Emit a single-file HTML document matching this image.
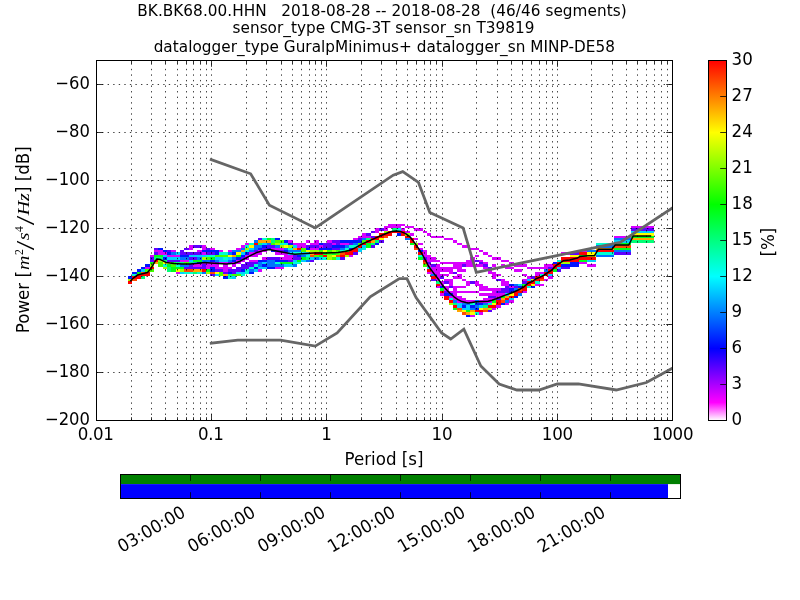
<!DOCTYPE html>
<html><head><meta charset="utf-8"><title>PPSD BK.BK68.00.HHN</title>
<style>html,body{margin:0;padding:0;background:#fff;overflow:hidden}svg{display:block}</style></head>
<body>
<svg width="800" height="600" viewBox="0 0 800 600" font-family="DejaVu Sans, Liberation Sans, sans-serif" font-size="16.67px" fill="#000">
<rect width="800" height="600" fill="#fff"/>
<g shape-rendering="crispEdges">
<path fill="#d900ff" d="M145 267h5v2h-5zM150 255h4v2h-4zM154 250h4v2h-4zM158 250h5v2h-5zM158 252h5v3h-5zM163 252h4v3h-4zM167 255h4v2h-4zM171 250h5v2h-5zM171 255h5v2h-5zM176 255h4v2h-4zM176 272h4v2h-4zM180 260h4v2h-4zM184 260h5v2h-5zM189 245h4v3h-4zM189 248h4v2h-4zM193 264h4v3h-4zM197 250h5v2h-5zM197 264h5v3h-5zM202 245h4v3h-4zM202 248h4v2h-4zM202 252h4v3h-4zM202 262h4v2h-4zM206 262h4v2h-4zM206 264h4v3h-4zM206 267h4v2h-4zM210 248h5v2h-5zM210 262h5v2h-5zM210 264h5v3h-5zM215 264h4v3h-4zM215 267h4v2h-4zM219 250h4v2h-4zM219 262h4v2h-4zM219 267h4v2h-4zM223 262h5v2h-5zM223 264h5v3h-5zM223 267h5v2h-5zM223 269h5v3h-5zM228 250h4v2h-4zM228 267h4v2h-4zM232 262h4v2h-4zM232 264h4v3h-4zM236 248h5v2h-5zM236 260h5v2h-5zM236 262h5v2h-5zM241 245h4v3h-4zM241 260h4v2h-4zM245 243h4v2h-4zM245 255h4v2h-4zM245 257h4v3h-4zM249 252h5v3h-5zM249 255h5v2h-5zM249 260h5v2h-5zM254 252h4v3h-4zM254 255h4v2h-4zM254 260h4v2h-4zM258 250h4v2h-4zM258 252h4v3h-4zM258 269h4v3h-4zM262 250h5v2h-5zM262 257h5v3h-5zM271 248h4v2h-4zM275 248h5v2h-5zM275 252h5v3h-5zM275 267h5v2h-5zM280 248h4v2h-4zM280 252h4v3h-4zM280 257h4v3h-4zM280 267h4v2h-4zM284 252h4v3h-4zM284 255h4v2h-4zM284 257h4v3h-4zM288 240h5v3h-5zM288 255h5v2h-5zM288 257h5v3h-5zM293 243h4v2h-4zM297 243h4v2h-4zM297 245h4v3h-4zM301 243h5v2h-5zM301 245h5v3h-5zM306 240h4v3h-4zM310 243h4v2h-4zM310 248h4v2h-4zM314 240h5v3h-5zM314 243h5v2h-5zM314 248h5v2h-5zM319 245h4v3h-4zM327 240h5v3h-5zM332 243h4v2h-4zM340 243h5v2h-5zM345 243h4v2h-4zM349 255h4v2h-4zM353 238h5v2h-5zM358 236h4v2h-4zM362 233h4v3h-4zM362 236h4v2h-4zM366 236h5v2h-5zM375 228h4v3h-4zM375 231h4v2h-4zM384 226h4v2h-4zM384 228h4v3h-4zM388 224h4v2h-4zM388 226h4v2h-4zM392 224h5v2h-5zM392 226h5v2h-5zM397 224h4v2h-4zM397 226h4v2h-4zM401 224h4v2h-4zM401 228h4v3h-4zM405 226h5v2h-5zM405 231h5v2h-5zM410 226h4v2h-4zM410 233h4v3h-4zM414 228h4v3h-4zM414 238h4v2h-4zM418 228h5v3h-5zM418 243h5v2h-5zM418 248h5v2h-5zM423 231h4v2h-4zM423 250h4v2h-4zM423 252h4v3h-4zM423 255h4v2h-4zM427 233h4v3h-4zM427 255h4v2h-4zM427 257h4v3h-4zM427 260h4v2h-4zM427 264h4v3h-4zM427 272h4v2h-4zM431 236h5v2h-5zM431 257h5v3h-5zM431 260h5v2h-5zM431 267h5v2h-5zM431 269h5v3h-5zM431 272h5v2h-5zM436 236h4v2h-4zM436 260h4v2h-4zM436 264h4v3h-4zM436 267h4v2h-4zM436 269h4v3h-4zM436 272h4v2h-4zM436 274h4v2h-4zM436 276h4v3h-4zM436 279h4v2h-4zM436 286h4v2h-4zM440 236h4v2h-4zM440 262h4v2h-4zM440 267h4v2h-4zM440 269h4v3h-4zM440 274h4v2h-4zM440 281h4v3h-4zM440 284h4v2h-4zM440 293h4v3h-4zM444 238h5v2h-5zM444 262h5v2h-5zM444 267h5v2h-5zM444 269h5v3h-5zM444 274h5v2h-5zM444 279h5v2h-5zM444 286h5v2h-5zM444 288h5v3h-5zM449 238h4v2h-4zM449 262h4v2h-4zM449 267h4v2h-4zM449 269h4v3h-4zM449 272h4v2h-4zM449 279h4v2h-4zM449 281h4v3h-4zM449 284h4v2h-4zM449 291h4v2h-4zM449 296h4v2h-4zM453 240h4v3h-4zM453 262h4v2h-4zM453 264h4v3h-4zM453 267h4v2h-4zM453 276h4v3h-4zM453 286h4v2h-4zM453 288h4v3h-4zM453 291h4v2h-4zM453 293h4v3h-4zM453 296h4v2h-4zM453 298h4v2h-4zM457 243h5v2h-5zM457 262h5v2h-5zM457 264h5v3h-5zM457 267h5v2h-5zM457 269h5v3h-5zM457 274h5v2h-5zM457 276h5v3h-5zM457 286h5v2h-5zM457 291h5v2h-5zM457 296h5v2h-5zM457 298h5v2h-5zM457 300h5v3h-5zM462 245h4v3h-4zM462 262h4v2h-4zM462 269h4v3h-4zM462 279h4v2h-4zM462 286h4v2h-4zM462 291h4v2h-4zM462 298h4v2h-4zM462 300h4v3h-4zM466 245h4v3h-4zM466 260h4v2h-4zM466 262h4v2h-4zM466 264h4v3h-4zM466 281h4v3h-4zM466 284h4v2h-4zM466 291h4v2h-4zM466 300h4v3h-4zM470 248h5v2h-5zM470 257h5v3h-5zM470 260h5v2h-5zM470 262h5v2h-5zM470 264h5v3h-5zM470 291h5v2h-5zM470 300h5v3h-5zM470 315h5v2h-5zM475 248h4v2h-4zM475 255h4v2h-4zM475 264h4v3h-4zM475 281h4v3h-4zM475 284h4v2h-4zM475 291h4v2h-4zM479 250h4v2h-4zM479 260h4v2h-4zM479 264h4v3h-4zM479 284h4v2h-4zM479 286h4v2h-4zM479 288h4v3h-4zM479 293h4v3h-4zM479 300h4v3h-4zM479 312h4v3h-4zM483 252h5v3h-5zM483 262h5v2h-5zM483 267h5v2h-5zM483 286h5v2h-5zM483 288h5v3h-5zM483 293h5v3h-5zM483 298h5v2h-5zM483 300h5v3h-5zM488 255h4v2h-4zM488 269h4v3h-4zM488 272h4v2h-4zM488 288h4v3h-4zM488 293h4v3h-4zM488 298h4v2h-4zM488 300h4v3h-4zM492 257h4v3h-4zM492 264h4v3h-4zM492 272h4v2h-4zM492 274h4v2h-4zM492 276h4v3h-4zM492 288h4v3h-4zM492 291h4v2h-4zM492 293h4v3h-4zM492 298h4v2h-4zM492 308h4v2h-4zM496 257h5v3h-5zM496 274h5v2h-5zM496 288h5v3h-5zM496 293h5v3h-5zM496 296h5v2h-5zM496 305h5v3h-5zM501 260h4v2h-4zM501 264h4v3h-4zM501 279h4v2h-4zM501 281h4v3h-4zM501 284h4v2h-4zM501 293h4v3h-4zM505 260h4v2h-4zM505 267h4v2h-4zM505 281h4v3h-4zM505 284h4v2h-4zM505 303h4v2h-4zM509 262h5v2h-5zM509 267h5v2h-5zM509 286h5v2h-5zM509 300h5v3h-5zM514 264h4v3h-4zM514 269h4v3h-4zM518 264h4v3h-4zM518 269h4v3h-4zM522 264h5v3h-5zM522 274h5v2h-5zM522 279h5v2h-5zM522 291h5v2h-5zM527 267h4v2h-4zM527 276h4v3h-4zM531 267h4v2h-4zM535 267h5v2h-5zM535 272h5v2h-5zM535 274h5v2h-5zM535 284h5v2h-5zM540 267h4v2h-4zM540 272h4v2h-4zM540 284h4v2h-4zM544 264h4v3h-4zM544 267h4v2h-4zM544 279h4v2h-4zM548 264h5v3h-5zM548 276h5v3h-5zM561 252h5v3h-5zM566 252h4v3h-4zM579 250h4v2h-4zM579 262h4v2h-4zM583 250h4v2h-4zM583 262h4v2h-4zM587 264h5v3h-5zM592 264h4v3h-4zM614 236h4v2h-4zM618 236h4v2h-4zM622 236h5v2h-5zM627 236h4v2h-4zM631 226h4v2h-4zM635 226h5v2h-5zM640 226h4v2h-4zM644 226h4v2h-4zM648 226h6v2h-6z"/>
<path fill="#5e00ff" d="M150 257h4v3h-4zM150 260h4v2h-4zM154 248h4v2h-4zM154 252h4v3h-4zM167 250h4v2h-4zM167 260h4v2h-4zM171 260h5v2h-5zM176 260h4v2h-4zM180 250h4v2h-4zM180 252h4v3h-4zM184 248h5v2h-5zM184 252h5v3h-5zM184 267h5v2h-5zM189 252h4v3h-4zM189 257h4v3h-4zM189 264h4v3h-4zM189 267h4v2h-4zM193 245h4v3h-4zM193 252h4v3h-4zM193 257h4v3h-4zM193 267h4v2h-4zM197 245h5v3h-5zM197 252h5v3h-5zM197 267h5v2h-5zM202 264h4v3h-4zM202 267h4v2h-4zM206 248h4v2h-4zM206 252h4v3h-4zM210 252h5v3h-5zM210 274h5v2h-5zM215 262h4v2h-4zM215 269h4v3h-4zM219 269h4v3h-4zM223 272h5v2h-5zM228 262h4v2h-4zM228 269h4v3h-4zM232 269h4v3h-4zM232 272h4v2h-4zM236 267h5v2h-5zM236 269h5v3h-5zM241 257h4v3h-4zM241 264h4v3h-4zM241 267h4v2h-4zM245 262h4v2h-4zM245 264h4v3h-4zM245 267h4v2h-4zM249 262h5v2h-5zM249 264h5v3h-5zM254 250h4v2h-4zM254 262h4v2h-4zM258 238h4v2h-4zM262 248h5v2h-5zM267 245h4v3h-4zM267 257h4v3h-4zM271 245h4v3h-4zM271 257h4v3h-4zM275 250h5v2h-5zM275 257h5v3h-5zM280 250h4v2h-4zM288 260h5v2h-5zM293 255h4v2h-4zM293 257h4v3h-4zM297 257h4v3h-4zM306 245h4v3h-4zM310 245h4v3h-4zM310 260h4v2h-4zM314 245h5v3h-5zM323 243h4v2h-4zM323 245h4v3h-4zM327 243h5v2h-5zM327 245h5v3h-5zM332 240h4v3h-4zM332 248h4v2h-4zM336 240h4v3h-4zM336 243h4v2h-4zM336 248h4v2h-4zM340 257h5v3h-5zM349 243h4v2h-4zM353 252h5v3h-5zM358 238h4v2h-4zM366 233h5v3h-5zM371 231h4v2h-4zM371 236h4v2h-4zM371 245h4v3h-4zM379 228h5v3h-5zM379 240h5v3h-5zM423 257h4v3h-4zM427 262h4v2h-4zM431 264h5v3h-5zM431 279h5v2h-5zM440 276h4v3h-4zM444 281h5v3h-5zM444 291h5v2h-5zM449 286h4v2h-4zM453 272h4v2h-4zM462 264h4v3h-4zM470 281h5v3h-5zM475 260h4v2h-4zM479 262h4v2h-4zM483 264h5v3h-5zM488 267h4v2h-4zM488 296h4v2h-4zM488 310h4v2h-4zM492 296h4v2h-4zM496 279h5v2h-5zM496 291h5v2h-5zM496 298h5v2h-5zM501 288h4v3h-4zM501 291h4v2h-4zM505 286h4v2h-4zM505 288h4v3h-4zM505 291h4v2h-4zM514 286h4v2h-4zM522 281h5v3h-5zM531 276h4v3h-4zM548 267h5v2h-5zM557 269h4v3h-4zM561 267h5v2h-5zM566 267h4v2h-4zM570 252h4v3h-4zM574 252h5v3h-5zM614 252h4v3h-4zM618 252h4v3h-4zM622 252h5v3h-5zM627 252h4v3h-4zM631 228h4v3h-4zM635 228h5v3h-5zM640 228h4v3h-4zM644 228h4v3h-4zM648 228h6v3h-6z"/>
<path fill="#0016ff" d="M128 276h4v3h-4zM132 272h5v2h-5zM137 269h4v3h-4zM141 267h4v2h-4zM145 264h5v3h-5zM158 248h5v2h-5zM163 250h4v2h-4zM163 257h4v3h-4zM167 252h4v3h-4zM180 255h4v2h-4zM184 255h5v2h-5zM197 262h5v2h-5zM202 250h4v2h-4zM206 250h4v2h-4zM210 250h5v2h-5zM210 260h5v2h-5zM210 267h5v2h-5zM210 269h5v3h-5zM215 250h4v2h-4zM215 252h4v3h-4zM223 276h5v3h-5zM228 272h4v2h-4zM232 252h4v3h-4zM232 260h4v2h-4zM236 257h5v3h-5zM241 255h4v2h-4zM241 269h4v3h-4zM245 252h4v3h-4zM249 272h5v2h-5zM254 267h4v2h-4zM258 248h4v2h-4zM258 260h4v2h-4zM262 245h5v3h-5zM262 260h5v2h-5zM262 264h5v3h-5zM267 248h4v2h-4zM267 267h4v2h-4zM271 250h4v2h-4zM271 267h4v2h-4zM275 238h5v2h-5zM275 260h5v2h-5zM280 260h4v2h-4zM284 240h4v3h-4zM284 250h4v2h-4zM284 260h4v2h-4zM288 243h5v2h-5zM297 255h4v2h-4zM306 248h4v2h-4zM319 243h4v2h-4zM319 248h4v2h-4zM323 248h4v2h-4zM327 248h5v2h-5zM332 245h4v3h-4zM336 245h4v3h-4zM340 240h5v3h-5zM340 245h5v3h-5zM345 240h4v3h-4zM349 240h4v3h-4zM349 248h4v2h-4zM353 240h5v3h-5zM358 240h4v3h-4zM375 243h4v2h-4zM397 233h4v3h-4zM418 250h5v2h-5zM440 286h4v2h-4zM444 293h5v3h-5zM449 293h4v3h-4zM462 305h4v3h-4zM466 315h4v2h-4zM470 305h5v3h-5zM475 303h4v2h-4zM475 308h4v2h-4zM479 303h4v2h-4zM501 303h4v2h-4zM509 284h5v2h-5zM509 288h5v3h-5zM509 291h5v2h-5zM514 296h4v2h-4zM518 286h4v2h-4zM531 286h4v2h-4zM553 262h4v2h-4zM561 264h5v3h-5zM566 264h4v3h-4zM570 262h4v2h-4zM570 264h4v3h-4zM574 262h5v2h-5zM574 264h5v3h-5z"/>
<path fill="#0073ff" d="M171 252h5v3h-5zM180 257h4v3h-4zM180 264h4v3h-4zM184 257h5v3h-5zM184 264h5v3h-5zM197 257h5v3h-5zM202 260h4v2h-4zM202 272h4v2h-4zM206 260h4v2h-4zM215 260h4v2h-4zM228 252h4v3h-4zM228 260h4v2h-4zM232 250h4v2h-4zM232 257h4v3h-4zM236 250h5v2h-5zM241 248h4v2h-4zM249 250h5v2h-5zM249 269h5v3h-5zM254 240h4v3h-4zM254 245h4v3h-4zM254 248h4v2h-4zM258 245h4v3h-4zM258 262h4v2h-4zM258 264h4v3h-4zM267 243h4v2h-4zM267 260h4v2h-4zM267 262h4v2h-4zM267 264h4v3h-4zM271 260h4v2h-4zM271 262h4v2h-4zM271 264h4v3h-4zM275 245h5v3h-5zM275 264h5v3h-5zM280 264h4v3h-4zM284 248h4v2h-4zM288 250h5v2h-5zM293 250h4v2h-4zM293 264h4v3h-4zM297 250h4v2h-4zM301 255h5v2h-5zM306 260h4v2h-4zM314 257h5v3h-5zM340 248h5v2h-5zM345 245h4v3h-4zM353 243h5v2h-5zM362 238h4v2h-4zM405 238h5v2h-5zM431 274h5v2h-5zM453 300h4v3h-4zM462 303h4v2h-4zM466 303h4v2h-4zM470 308h5v2h-5zM475 300h4v3h-4zM475 305h4v3h-4zM483 303h5v2h-5zM505 300h4v3h-4zM514 284h4v2h-4zM514 288h4v3h-4zM518 293h4v3h-4zM544 269h4v3h-4zM587 250h5v2h-5zM592 250h4v2h-4zM596 245h4v3h-4zM596 255h4v2h-4zM600 245h5v3h-5zM600 255h5v2h-5zM605 245h4v3h-4zM605 255h4v2h-4zM609 245h5v3h-5zM609 255h5v2h-5zM614 238h4v2h-4zM614 250h4v2h-4zM618 238h4v2h-4zM618 250h4v2h-4zM622 238h5v2h-5zM622 250h5v2h-5zM627 238h4v2h-4zM627 250h4v2h-4z"/>
<path fill="#00cfff" d="M141 269h4v3h-4zM163 255h4v2h-4zM167 257h4v3h-4zM171 257h5v3h-5zM176 252h4v3h-4zM176 257h4v3h-4zM180 272h4v2h-4zM189 255h4v2h-4zM189 260h4v2h-4zM193 255h4v2h-4zM193 262h4v2h-4zM197 255h5v2h-5zM202 255h4v2h-4zM215 257h4v3h-4zM215 274h4v2h-4zM219 257h4v3h-4zM219 260h4v2h-4zM223 260h5v2h-5zM228 257h4v3h-4zM232 276h4v3h-4zM236 272h5v2h-5zM241 252h4v3h-4zM241 272h4v2h-4zM249 248h5v2h-5zM254 269h4v3h-4zM258 267h4v2h-4zM262 243h5v2h-5zM262 262h5v2h-5zM262 267h5v2h-5zM284 264h4v3h-4zM288 252h5v3h-5zM288 264h5v3h-5zM293 245h4v3h-4zM293 260h4v2h-4zM301 252h5v3h-5zM301 260h5v2h-5zM306 252h4v3h-4zM310 257h4v3h-4zM319 257h4v3h-4zM358 248h4v2h-4zM358 250h4v2h-4zM362 245h4v3h-4zM457 303h5v2h-5zM457 305h5v3h-5zM462 308h4v2h-4zM466 305h4v3h-4zM466 308h4v2h-4zM479 305h4v3h-4zM505 293h4v3h-4zM509 298h5v2h-5zM518 284h4v2h-4zM527 279h4v2h-4zM548 274h5v2h-5zM557 267h4v2h-4zM587 260h5v2h-5zM592 260h4v2h-4zM614 240h4v3h-4zM618 240h4v3h-4zM622 240h5v3h-5zM627 240h4v3h-4zM631 231h4v2h-4zM635 231h5v2h-5zM640 231h4v2h-4zM644 231h4v2h-4zM648 231h6v2h-6z"/>
<path fill="#00ffd3" d="M132 274h5v2h-5zM163 264h4v3h-4zM176 264h4v3h-4zM184 272h5v2h-5zM189 272h4v2h-4zM197 272h5v2h-5zM206 255h4v2h-4zM210 255h5v2h-5zM219 252h4v3h-4zM223 252h5v3h-5zM223 257h5v3h-5zM228 276h4v3h-4zM241 274h4v2h-4zM245 245h4v3h-4zM245 250h4v2h-4zM245 269h4v3h-4zM245 272h4v2h-4zM249 243h5v2h-5zM249 267h5v2h-5zM254 264h4v3h-4zM262 238h5v2h-5zM275 262h5v2h-5zM280 243h4v2h-4zM284 243h4v2h-4zM288 248h5v2h-5zM293 252h4v3h-4zM293 262h4v2h-4zM297 252h4v3h-4zM297 262h4v2h-4zM306 255h4v2h-4zM323 257h4v3h-4zM336 257h4v3h-4zM340 250h5v2h-5zM345 248h4v2h-4zM349 245h4v3h-4zM353 245h5v3h-5zM362 248h4v2h-4zM397 228h4v3h-4zM418 255h5v2h-5zM427 267h4v2h-4zM449 298h4v2h-4zM470 303h5v2h-5zM475 312h4v3h-4zM488 303h4v2h-4zM527 286h4v2h-4zM535 281h5v3h-5zM540 274h4v2h-4zM557 260h4v2h-4zM596 243h4v2h-4zM596 252h4v3h-4zM600 243h5v2h-5zM600 252h5v3h-5zM605 243h4v2h-4zM605 252h4v3h-4zM609 243h5v2h-5zM609 252h5v3h-5z"/>
<path fill="#00ff76" d="M141 276h4v3h-4zM154 257h4v3h-4zM158 257h5v3h-5zM163 260h4v2h-4zM167 267h4v2h-4zM167 269h4v3h-4zM176 262h4v2h-4zM180 262h4v2h-4zM189 262h4v2h-4zM193 272h4v2h-4zM228 274h4v2h-4zM258 243h4v2h-4zM271 238h4v2h-4zM271 240h4v3h-4zM306 257h4v3h-4zM366 238h5v2h-5zM371 243h4v2h-4zM375 240h4v3h-4zM392 228h5v3h-5zM436 281h4v3h-4zM453 303h4v2h-4zM483 305h5v3h-5zM631 240h4v3h-4zM635 240h5v3h-5zM640 240h4v3h-4zM644 240h4v3h-4zM648 240h6v3h-6z"/>
<path fill="#00ff1a" d="M137 272h4v2h-4zM150 262h4v2h-4zM154 255h4v2h-4zM158 255h5v2h-5zM167 264h4v3h-4zM171 262h5v2h-5zM171 267h5v2h-5zM171 269h5v3h-5zM176 267h4v2h-4zM180 267h4v2h-4zM193 260h4v2h-4zM197 260h5v2h-5zM206 269h4v3h-4zM210 257h5v3h-5zM236 255h5v2h-5zM267 238h4v2h-4zM280 262h4v2h-4zM284 262h4v2h-4zM288 262h5v2h-5zM297 260h4v2h-4zM301 257h5v3h-5zM319 255h4v2h-4zM323 252h4v3h-4zM332 252h4v3h-4zM345 250h4v2h-4zM366 243h5v2h-5zM366 245h5v3h-5zM410 243h4v2h-4zM418 257h5v3h-5zM440 288h4v3h-4zM453 308h4v2h-4zM466 310h4v2h-4zM492 300h4v3h-4zM501 296h4v2h-4zM522 284h5v2h-5zM553 269h4v3h-4zM579 255h4v2h-4zM579 260h4v2h-4zM583 255h4v2h-4zM583 260h4v2h-4zM614 243h4v2h-4zM614 248h4v2h-4zM618 243h4v2h-4zM618 248h4v2h-4zM622 243h5v2h-5zM622 248h5v2h-5zM627 243h4v2h-4zM627 248h4v2h-4zM631 236h4v2h-4zM635 236h5v2h-5zM640 236h4v2h-4zM644 236h4v2h-4zM648 236h6v2h-6z"/>
<path fill="#43ff00" d="M145 269h5v3h-5zM150 269h4v3h-4zM158 262h5v2h-5zM158 264h5v3h-5zM171 264h5v3h-5zM184 262h5v2h-5zM206 257h4v3h-4zM215 255h4v2h-4zM219 255h4v2h-4zM219 272h4v2h-4zM219 274h4v2h-4zM223 255h5v2h-5zM232 274h4v2h-4zM236 274h5v2h-5zM271 243h4v2h-4zM275 240h5v3h-5zM280 240h4v3h-4zM301 248h5v2h-5zM301 250h5v2h-5zM314 255h5v2h-5zM319 250h4v2h-4zM327 250h5v2h-5zM327 252h5v3h-5zM332 257h4v3h-4zM336 250h4v2h-4zM336 252h4v3h-4zM358 243h4v2h-4zM362 240h4v3h-4zM423 264h4v3h-4z"/>
<path fill="#9fff00" d="M128 279h4v2h-4zM150 264h4v3h-4zM158 260h5v2h-5zM163 267h4v2h-4zM180 269h4v3h-4zM202 257h4v3h-4zM206 272h4v2h-4zM245 248h4v2h-4zM275 243h5v2h-5zM280 245h4v3h-4zM288 245h5v3h-5zM310 250h4v2h-4zM314 250h5v2h-5zM327 255h5v2h-5zM327 257h5v3h-5zM332 250h4v2h-4zM345 255h4v2h-4zM384 231h4v2h-4zM405 233h5v3h-5zM414 243h4v2h-4zM449 303h4v2h-4zM488 308h4v2h-4zM561 262h5v2h-5zM566 262h4v2h-4z"/>
<path fill="#fbff00" d="M163 262h4v2h-4zM167 262h4v2h-4zM176 269h4v3h-4zM215 272h4v2h-4zM228 255h4v2h-4zM236 252h5v3h-5zM249 245h5v3h-5zM284 245h4v3h-4zM306 250h4v2h-4zM323 250h4v2h-4zM332 255h4v2h-4zM379 238h5v2h-5zM462 310h4v2h-4zM470 312h5v3h-5zM479 308h4v2h-4zM492 303h4v2h-4zM509 293h5v3h-5zM531 279h4v2h-4zM531 284h4v2h-4zM570 255h4v2h-4zM574 255h5v2h-5zM587 252h5v3h-5zM587 255h5v2h-5zM592 252h4v3h-4zM592 255h4v2h-4zM631 233h4v3h-4zM635 233h5v3h-5zM640 233h4v3h-4zM644 233h4v3h-4zM648 233h6v3h-6z"/>
<path fill="#ffa600" d="M154 262h4v2h-4zM193 269h4v3h-4zM197 269h5v3h-5zM223 274h5v2h-5zM232 255h4v2h-4zM241 250h4v2h-4zM258 240h4v3h-4zM262 240h5v3h-5zM267 240h4v3h-4zM293 248h4v2h-4zM310 252h4v3h-4zM371 240h4v3h-4zM457 310h5v2h-5zM466 312h4v3h-4zM470 310h5v2h-5zM483 308h5v2h-5zM501 298h4v2h-4zM505 296h4v2h-4zM596 248h4v2h-4zM600 248h5v2h-5zM605 248h4v2h-4zM609 248h5v2h-5zM631 238h4v2h-4zM635 238h5v2h-5zM640 238h4v2h-4zM644 238h4v2h-4zM648 238h6v2h-6z"/>
<path fill="#ff4a00" d="M132 279h5v2h-5zM141 272h4v2h-4zM184 269h5v3h-5zM189 269h4v3h-4zM210 272h5v2h-5zM310 255h4v2h-4zM336 255h4v2h-4zM340 252h5v3h-5zM384 236h4v2h-4zM414 248h4v2h-4zM423 262h4v2h-4zM457 308h5v2h-5zM462 312h4v3h-4zM483 310h5v2h-5zM501 300h4v3h-4zM518 288h4v3h-4zM540 279h4v2h-4zM614 245h4v3h-4zM618 245h4v3h-4zM622 245h5v3h-5zM627 245h4v3h-4z"/>
<path fill="#ff0000" d="M128 281h4v3h-4zM132 276h5v3h-5zM137 274h4v2h-4zM137 276h4v3h-4zM141 274h4v2h-4zM145 272h5v2h-5zM145 274h5v2h-5zM150 267h4v2h-4zM154 260h4v2h-4zM202 269h4v3h-4zM254 243h4v2h-4zM297 248h4v2h-4zM314 252h5v3h-5zM319 252h4v3h-4zM323 255h4v2h-4zM340 255h5v2h-5zM345 252h4v3h-4zM349 250h4v2h-4zM349 252h4v3h-4zM353 248h5v2h-5zM353 250h5v2h-5zM358 245h4v3h-4zM362 243h4v2h-4zM366 240h5v3h-5zM371 238h4v2h-4zM375 236h4v2h-4zM375 238h4v2h-4zM379 233h5v3h-5zM379 236h5v2h-5zM384 233h4v3h-4zM388 231h4v2h-4zM388 233h4v3h-4zM392 231h5v2h-5zM397 231h4v2h-4zM401 231h4v2h-4zM401 233h4v3h-4zM405 236h5v2h-5zM410 238h4v2h-4zM410 240h4v3h-4zM414 245h4v3h-4zM418 252h5v3h-5zM423 260h4v2h-4zM427 269h4v3h-4zM431 276h5v3h-5zM436 284h4v2h-4zM440 291h4v2h-4zM444 296h5v2h-5zM444 298h5v2h-5zM449 300h4v3h-4zM453 305h4v3h-4zM475 310h4v2h-4zM479 310h4v2h-4zM488 305h4v3h-4zM492 305h4v3h-4zM496 300h5v3h-5zM496 303h5v2h-5zM505 298h4v2h-4zM509 296h5v2h-5zM514 291h4v2h-4zM514 293h4v3h-4zM518 291h4v2h-4zM522 286h5v2h-5zM522 288h5v3h-5zM527 281h4v3h-4zM527 284h4v2h-4zM531 281h4v3h-4zM535 276h5v3h-5zM535 279h5v2h-5zM540 276h4v3h-4zM544 272h4v2h-4zM544 274h4v2h-4zM548 269h5v3h-5zM548 272h5v2h-5zM553 264h4v3h-4zM553 267h4v2h-4zM557 262h4v2h-4zM557 264h4v3h-4zM561 257h5v3h-5zM561 260h5v2h-5zM566 257h4v3h-4zM566 260h4v2h-4zM570 257h4v3h-4zM570 260h4v2h-4zM574 257h5v3h-5zM574 260h5v2h-5zM579 252h4v3h-4zM579 257h4v3h-4zM583 252h4v3h-4zM583 257h4v3h-4zM587 257h5v3h-5zM592 257h4v3h-4zM596 250h4v2h-4zM600 250h5v2h-5zM605 250h4v2h-4zM609 250h5v2h-5z"/>
</g>
<path d="M131.5 420.5V60.5M151.5 420.5V60.5M165.5 420.5V60.5M177.5 420.5V60.5M186.5 420.5V60.5M193.5 420.5V60.5M200.5 420.5V60.5M206.5 420.5V60.5M211.5 420.5V60.5M246.5 420.5V60.5M266.5 420.5V60.5M281.5 420.5V60.5M292.5 420.5V60.5M301.5 420.5V60.5M309.5 420.5V60.5M315.5 420.5V60.5M321.5 420.5V60.5M326.5 420.5V60.5M361.5 420.5V60.5M381.5 420.5V60.5M396.5 420.5V60.5M407.5 420.5V60.5M416.5 420.5V60.5M424.5 420.5V60.5M430.5 420.5V60.5M436.5 420.5V60.5M442.5 420.5V60.5M476.5 420.5V60.5M497.5 420.5V60.5M511.5 420.5V60.5M522.5 420.5V60.5M531.5 420.5V60.5M539.5 420.5V60.5M546.5 420.5V60.5M552.5 420.5V60.5M557.5 420.5V60.5M591.5 420.5V60.5M612.5 420.5V60.5M626.5 420.5V60.5M637.5 420.5V60.5M646.5 420.5V60.5M654.5 420.5V60.5M661.5 420.5V60.5M667.5 420.5V60.5" stroke="#000" stroke-width="0.75" stroke-dasharray="1.39 4.17" fill="none"/>
<path d="M96.5 372.5H672.5M96.5 324.5H672.5M96.5 276.5H672.5M96.5 228.5H672.5M96.5 180.5H672.5M96.5 132.5H672.5M96.5 84.5H672.5" stroke="#000" stroke-width="0.75" stroke-dasharray="1.39 4.17" fill="none"/>
<clipPath id="axc"><rect x="96.5" y="60.5" width="576.0" height="360.0"/></clipPath>
<path d="M211.20 343.20L237.75 340.08L280.56 340.07L315.24 346.08L337.16 332.87L370.20 296.75L399.38 278.64L406.92 278.63L416.04 297.60L441.60 333.00L450.72 338.99L463.85 329.11L480.82 366.01L499.16 383.99L516.85 390.00L538.96 390.00L557.30 384.00L578.40 383.97L616.23 389.98L646.44 382.51L672.00 368.35" stroke="#666" stroke-width="2.78" fill="none" stroke-linejoin="miter" stroke-miterlimit="10" stroke-linecap="square" clip-path="url(#axc)"/>
<path d="M211.20 159.60L250.65 173.77L269.39 205.20L315.24 228.00L393.19 175.19L402.75 171.59L418.48 182.40L429.81 212.39L463.20 228.01L476.28 272.39L620.16 242.41L672.00 208.25" stroke="#666" stroke-width="2.78" fill="none" stroke-linejoin="miter" stroke-miterlimit="10" stroke-linecap="square" clip-path="url(#axc)"/>
<path d="M130.2 281.2L133.0 278.3L137.0 275.3L141.4 273.9L147.5 272.4L150.3 269.3L154.0 263.2L156.8 258.9L160.4 259.6L166.0 262.4L174.0 263.6L182.0 264.0L190.0 264.0L198.0 263.2L204.4 262.6L214.0 263.2L226.4 264.0L234.4 263.2L240.0 261.2L248.0 256.8L256.0 252.8L264.0 250.4L269.6 249.6L274.0 250.4L282.0 252.0L290.0 253.6L294.8 254.2L306.0 253.6L314.0 253.0L326.0 253.0L338.0 252.6L346.0 251.2L350.8 250.0L355.6 247.6L360.4 244.8L365.2 242.6L372.0 239.6L380.0 236.0L388.0 232.8L392.0 231.4L396.0 231.0L400.8 231.6L405.6 233.6L410.4 237.2L414.0 242.0L418.0 247.6L422.0 254.0L426.0 261.2L428.4 266.0L434.0 273.6L438.0 278.8L442.0 284.4L446.0 289.2L450.0 293.2L454.0 296.8L458.0 299.6L462.0 301.6L466.0 302.6L468.0 303.0L472.0 302.4L476.0 301.8L484.0 301.4L488.0 301.2L492.0 300.2L496.0 298.8L500.0 297.2L504.0 295.6L512.0 292.8L520.0 289.2L524.0 286.8L528.0 283.2L532.0 281.6L536.0 278.8L540.0 277.2L544.0 275.2L548.0 272.4L552.0 270.0L554.4 267.2L556.0 265.6L560.0 263.0L563.2 260.8L569.6 260.0L574.4 258.8L577.6 258.0L580.0 256.4L588.0 255.8L594.4 255.8L598.4 249.2L612.0 249.2L615.2 245.0L628.8 245.0L633.2 236.0L651.2 236.0" stroke="#000" stroke-width="1.5" fill="none" stroke-linejoin="round" stroke-linecap="butt"/>
<rect x="96.5" y="60.5" width="576.0" height="360.0" fill="none" stroke="#000" stroke-width="1"/>
<path d="M96.5 420.5v-6.3M96.5 60.5v6.3M131.5 420.5v-3.3M131.5 60.5v3.3M151.5 420.5v-3.3M151.5 60.5v3.3M165.5 420.5v-3.3M165.5 60.5v3.3M177.5 420.5v-3.3M177.5 60.5v3.3M186.5 420.5v-3.3M186.5 60.5v3.3M193.5 420.5v-3.3M193.5 60.5v3.3M200.5 420.5v-3.3M200.5 60.5v3.3M206.5 420.5v-3.3M206.5 60.5v3.3M211.5 420.5v-6.3M211.5 60.5v6.3M246.5 420.5v-3.3M246.5 60.5v3.3M266.5 420.5v-3.3M266.5 60.5v3.3M281.5 420.5v-3.3M281.5 60.5v3.3M292.5 420.5v-3.3M292.5 60.5v3.3M301.5 420.5v-3.3M301.5 60.5v3.3M309.5 420.5v-3.3M309.5 60.5v3.3M315.5 420.5v-3.3M315.5 60.5v3.3M321.5 420.5v-3.3M321.5 60.5v3.3M326.5 420.5v-6.3M326.5 60.5v6.3M361.5 420.5v-3.3M361.5 60.5v3.3M381.5 420.5v-3.3M381.5 60.5v3.3M396.5 420.5v-3.3M396.5 60.5v3.3M407.5 420.5v-3.3M407.5 60.5v3.3M416.5 420.5v-3.3M416.5 60.5v3.3M424.5 420.5v-3.3M424.5 60.5v3.3M430.5 420.5v-3.3M430.5 60.5v3.3M436.5 420.5v-3.3M436.5 60.5v3.3M442.5 420.5v-6.3M442.5 60.5v6.3M476.5 420.5v-3.3M476.5 60.5v3.3M497.5 420.5v-3.3M497.5 60.5v3.3M511.5 420.5v-3.3M511.5 60.5v3.3M522.5 420.5v-3.3M522.5 60.5v3.3M531.5 420.5v-3.3M531.5 60.5v3.3M539.5 420.5v-3.3M539.5 60.5v3.3M546.5 420.5v-3.3M546.5 60.5v3.3M552.5 420.5v-3.3M552.5 60.5v3.3M557.5 420.5v-6.3M557.5 60.5v6.3M591.5 420.5v-3.3M591.5 60.5v3.3M612.5 420.5v-3.3M612.5 60.5v3.3M626.5 420.5v-3.3M626.5 60.5v3.3M637.5 420.5v-3.3M637.5 60.5v3.3M646.5 420.5v-3.3M646.5 60.5v3.3M654.5 420.5v-3.3M654.5 60.5v3.3M661.5 420.5v-3.3M661.5 60.5v3.3M667.5 420.5v-3.3M667.5 60.5v3.3M672.5 420.5v-6.3M672.5 60.5v6.3M96.5 420.5h6.3M672.5 420.5h-6.3M96.5 372.5h6.3M672.5 372.5h-6.3M96.5 324.5h6.3M672.5 324.5h-6.3M96.5 276.5h6.3M672.5 276.5h-6.3M96.5 228.5h6.3M672.5 228.5h-6.3M96.5 180.5h6.3M672.5 180.5h-6.3M96.5 132.5h6.3M672.5 132.5h-6.3M96.5 84.5h6.3M672.5 84.5h-6.3" stroke="#000" stroke-width="0.8" fill="none"/>
<text transform="translate(95.60,440) scale(1,1.06)" text-anchor="middle" letter-spacing="-0.3">0.01</text>
<text transform="translate(210.80,440) scale(1,1.06)" text-anchor="middle" letter-spacing="-0.3">0.1</text>
<text transform="translate(326.50,440) scale(1,1.06)" text-anchor="middle" letter-spacing="-0.3">1</text>
<text transform="translate(441.90,440) scale(1,1.06)" text-anchor="middle" letter-spacing="-0.3">10</text>
<text transform="translate(557.30,440) scale(1,1.06)" text-anchor="middle" letter-spacing="-0.3">100</text>
<text transform="translate(672.60,440) scale(1,1.06)" text-anchor="middle" letter-spacing="-0.3">1000</text>
<text transform="translate(90,425.15) scale(0.985,1.06)" text-anchor="end">−200</text>
<text transform="translate(90,377.15) scale(0.985,1.06)" text-anchor="end">−180</text>
<text transform="translate(90,329.15) scale(0.985,1.06)" text-anchor="end">−160</text>
<text transform="translate(90,281.15) scale(0.985,1.06)" text-anchor="end">−140</text>
<text transform="translate(90,233.15) scale(0.985,1.06)" text-anchor="end">−120</text>
<text transform="translate(90,185.15) scale(0.985,1.06)" text-anchor="end">−100</text>
<text transform="translate(90,137.15) scale(0.985,1.06)" text-anchor="end">−80</text>
<text transform="translate(90,89.15) scale(0.985,1.06)" text-anchor="end">−60</text>
<text transform="translate(384,464.5) scale(1,1.06)" text-anchor="middle">Period [s]</text>
<g transform="translate(28.7,331.7) rotate(-90)"><text transform="translate(-1.5,0) scale(1,1.06)">Power [</text><text transform="translate(61.6,0) scale(1.2,1)" font-family="Liberation Serif, DejaVu Serif, serif" font-style="italic" font-size="16.67px">m</text><text transform="translate(76.6,-6) scale(1.0,1)" font-family="Liberation Serif, DejaVu Serif, serif"  font-size="11.67px">2</text><text transform="translate(81.5,5.2) scale(1.4,1)" font-family="Liberation Serif, DejaVu Serif, serif"  font-size="24.6px">/</text><text transform="translate(91.5,0) scale(1.2,1)" font-family="Liberation Serif, DejaVu Serif, serif" font-style="italic" font-size="16.67px">s</text><text transform="translate(99.8,-6) scale(1.0,1)" font-family="Liberation Serif, DejaVu Serif, serif"  font-size="11.67px">4</text><text transform="translate(106.5,5.2) scale(1.4,1)" font-family="Liberation Serif, DejaVu Serif, serif"  font-size="24.6px">/</text><text transform="translate(116.5,0) scale(1.2,1)" font-family="Liberation Serif, DejaVu Serif, serif" font-style="italic" font-size="16.67px">H</text><text transform="translate(130.6,0) scale(1.2,1)" font-family="Liberation Serif, DejaVu Serif, serif" font-style="italic" font-size="16.67px">z</text><text transform="translate(185.4,0) scale(1,1.06)" text-anchor="end">] [dB]</text></g>
<text transform="translate(382,16) scale(1,1.06)" text-anchor="middle" xml:space="preserve" style="white-space:pre" font-size="15.28px" letter-spacing="0.04">BK.BK68.00.HHN   2018-08-28 -- 2018-08-28  (46/46 segments)</text>
<text transform="translate(383.5,33) scale(1,1.06)" text-anchor="middle" font-size="15.28px" letter-spacing="0.03">sensor_type CMG-3T sensor_sn T39819</text>
<text transform="translate(384.3,51.5) scale(1,1.06)" text-anchor="middle" font-size="15.28px" letter-spacing="0.03">datalogger_type GuralpMinimus+ datalogger_sn MINP-DE58</text>
<defs><linearGradient id="cb" x1="0" y1="1" x2="0" y2="0"><stop offset="0" stop-color="#ffffff"/><stop offset="0.05" stop-color="#ff00ff"/><stop offset="0.2" stop-color="#0000ff"/><stop offset="0.4" stop-color="#00ffff"/><stop offset="0.6" stop-color="#00ff00"/><stop offset="0.8" stop-color="#ffff00"/><stop offset="1" stop-color="#ff0000"/></linearGradient></defs>
<rect x="708.5" y="60.5" width="18.0" height="360.0" fill="url(#cb)" stroke="#000" stroke-width="1"/>
<text transform="translate(731.6,425.15) scale(1,1.06)">0</text>
<text transform="translate(731.6,389.15) scale(1,1.06)">3</text>
<text transform="translate(731.6,353.15) scale(1,1.06)">6</text>
<text transform="translate(731.6,317.15) scale(1,1.06)">9</text>
<text transform="translate(731.6,281.15) scale(1,1.06)">12</text>
<text transform="translate(731.6,245.15) scale(1,1.06)">15</text>
<text transform="translate(731.6,209.15) scale(1,1.06)">18</text>
<text transform="translate(731.6,173.15) scale(1,1.06)">21</text>
<text transform="translate(731.6,137.15) scale(1,1.06)">24</text>
<text transform="translate(731.6,101.15) scale(1,1.06)">27</text>
<text transform="translate(731.6,65.15) scale(1,1.06)">30</text>
<path d="M726.5 420.5h-6.3M726.5 384.5h-6.3M726.5 348.5h-6.3M726.5 312.5h-6.3M726.5 276.5h-6.3M726.5 240.5h-6.3M726.5 204.5h-6.3M726.5 168.5h-6.3M726.5 132.5h-6.3M726.5 96.5h-6.3M726.5 60.5h-6.3" stroke="#000" stroke-width="0.8" fill="none"/>
<text transform="translate(774.4,242.1) rotate(-90) scale(1,1.06)" text-anchor="middle">[%]</text>
<rect x="120.5" y="474.5" width="560.0" height="9.6" fill="#008000"/>
<rect x="120.5" y="484.1" width="547.5" height="14.4" fill="#0000ff"/>
<rect x="120.5" y="474.5" width="560.0" height="24.0" fill="none" stroke="#000" stroke-width="1"/>
<text transform="translate(186.8,515.6) rotate(-30) scale(1,1.06)" text-anchor="end">03:00:00</text>
<text transform="translate(256.8,515.6) rotate(-30) scale(1,1.06)" text-anchor="end">06:00:00</text>
<text transform="translate(326.8,515.6) rotate(-30) scale(1,1.06)" text-anchor="end">09:00:00</text>
<text transform="translate(396.8,515.6) rotate(-30) scale(1,1.06)" text-anchor="end">12:00:00</text>
<text transform="translate(466.8,515.6) rotate(-30) scale(1,1.06)" text-anchor="end">15:00:00</text>
<text transform="translate(536.8,515.6) rotate(-30) scale(1,1.06)" text-anchor="end">18:00:00</text>
<text transform="translate(606.8,515.6) rotate(-30) scale(1,1.06)" text-anchor="end">21:00:00</text>
<path d="M190.5 498.5v-6.3M190.5 474.5v6.3M260.5 498.5v-6.3M260.5 474.5v6.3M330.5 498.5v-6.3M330.5 474.5v6.3M400.5 498.5v-6.3M400.5 474.5v6.3M470.5 498.5v-6.3M470.5 474.5v6.3M540.5 498.5v-6.3M540.5 474.5v6.3M610.5 498.5v-6.3M610.5 474.5v6.3" stroke="#000" stroke-width="0.8" fill="none"/>
</svg>
</body></html>
